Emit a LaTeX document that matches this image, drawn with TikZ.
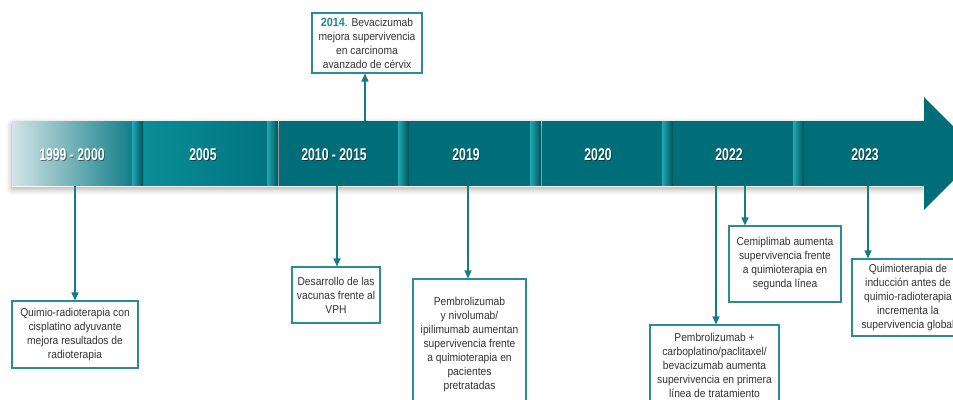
\documentclass[tikz,border=0pt]{standalone}
\usepackage{fontspec}
\setmainfont{Liberation Sans}
\newfontfamily\boxfont[FakeStretch=0.9]{Liberation Sans}
\newfontfamily\yearfont[FakeStretch=0.72]{Liberation Sans}
\usetikzlibrary{arrows.meta,shadows.blur}
\definecolor{bandmain}{HTML}{006E79}
\definecolor{bandlight}{HTML}{D2E4E7}
\definecolor{bandfirst}{HTML}{137F89}
\definecolor{bandtwoA}{HTML}{0A8E98}
\definecolor{bandtwoB}{HTML}{00747F}
\definecolor{divlight}{HTML}{22AAB3}
\definecolor{divdark}{HTML}{00525B}
\definecolor{boxline}{HTML}{2A8C96}
\definecolor{linkcol}{HTML}{137C87}
\definecolor{boxtext}{HTML}{333333}
\definecolor{yearhl}{HTML}{1A8A94}
\tikzset{
  event/.style={draw=boxline, line width=1.1pt, fill=white, text=boxtext,
    font=\boxfont\fontsize{11.4}{14}\selectfont, align=center, inner sep=0pt},
  yearlabel/.style={text=white, font=\yearfont\bfseries\fontsize{17}{17}\selectfont},
  yearshadow/.style={text=black, opacity=0.45, font=\yearfont\bfseries\fontsize{17}{17}\selectfont},
  link/.style={draw=linkcol, line width=1.5pt, -{Triangle[width=7pt,length=8pt]}},
}
\begin{document}
\begin{tikzpicture}[x=1pt,y=-1pt]
\useasboundingbox (0,0) rectangle (953,399);
\clip (0,0) rectangle (953,399);

% soft shadow around the time band
\path[blur shadow={shadow xshift=0pt, shadow yshift=-3pt, shadow blur radius=6pt, shadow opacity=35}]
  (12,121) rectangle (922,186);

% band segments
\shade[left color=bandlight, right color=bandfirst] (12,121) rectangle (132,186);
\shade[left color=bandtwoA, right color=bandtwoB] (143,121) rectangle (267,186);
\fill[bandmain] (279,121) rectangle (398,186);
\fill[bandmain] (409,121) rectangle (530,186);
\fill[bandmain] (542,121) rectangle (662,186);
\fill[bandmain] (673,121) rectangle (793,186);
\fill[bandmain] (804,121) -- (924,121) -- (924,97) -- (980,153.5) -- (924,210)
  -- (924,186) -- (804,186) -- cycle;

% separators between segments: bright on the left, dark on the right
\foreach \sx in {132,267,398,530,662,793}{
  \shade[left color=divlight, right color=divdark] (\sx,121) rectangle (\sx+11,186);
}
\draw[white, line width=0.8pt] (12,186.6) -- (922,186.6);

% year labels
\foreach \nm/\px/\yr in {ya/72/1999 - 2000, yb/203/2005, yc/334/2010 - 2015,
    yd/466/2019, ye/598/2020, yf/729/2022, yg/865/2023}{
  \node[yearshadow] (\nm s) at (\px+0.8,155.3) {\yr};
  \node[yearlabel] (\nm) at (\px,154.5) {\yr};
}

% anchor points on the band
\coordinate (t1) at (75,186);
\coordinate (t2) at (365,121);
\coordinate (t3) at (337,186);
\coordinate (t4) at (468,186);
\coordinate (t5) at (716,186);
\coordinate (t6) at (745,186);
\coordinate (t7) at (868,186);

% event boxes
\node[event, minimum width=126pt, minimum height=67pt] (e1) at (75,334.5)
  {Quimio-radioterapia con\\cisplatino adyuvante\\mejora resultados de\\radioterapia};
\node[event, minimum width=110pt, minimum height=60pt] (e2) at (367,43)
  {{\bfseries\color{yearhl}\fontsize{12}{14}\selectfont 2014}. Bevacizumab\\mejora supervivencia\\en carcinoma\\avanzado de cérvix};
\node[event, minimum width=88pt, minimum height=56pt] (e3) at (336,295)
  {Desarrollo de las\\vacunas frente al\\VPH};
\node[event, minimum width=113pt, minimum height=132pt] (e4) at (469.5,345)
  {Pembrolizumab\\y nivolumab/\\ipilimumab aumentan\\supervivencia frente\\a quimioterapia en\\pacientes\\pretratadas};
\node[event, minimum width=129pt, minimum height=80pt] (e5) at (714.5,365)
  {Pembrolizumab +\\carboplatino/paclitaxel/\\bevacizumab aumenta\\supervivencia en primera\\línea de tratamiento};
\node[event, minimum width=112pt, minimum height=76pt] (e6) at (785,264)
  {Cemiplimab aumenta\\supervivencia frente\\a quimioterapia en\\segunda línea};
\node[event, minimum width=112pt, minimum height=77pt] (e7) at (908,297.5)
  {Quimioterapia de\\inducción antes de\\quimio-radioterapia\\incrementa la\\supervivencia global};

% connectors
\draw[link] (t1) -- (t1 |- e1.north);
\draw[link] (t2) -- (t2 |- e2.south);
\draw[link] (t3) -- (t3 |- e3.north);
\draw[link] (t4) -- (t4 |- e4.north);
\draw[link] (t5) -- (t5 |- e5.north);
\draw[link] (t6) -- (t6 |- e6.north);
\draw[link] (t7) -- (t7 |- e7.north);
\end{tikzpicture}
\end{document}
